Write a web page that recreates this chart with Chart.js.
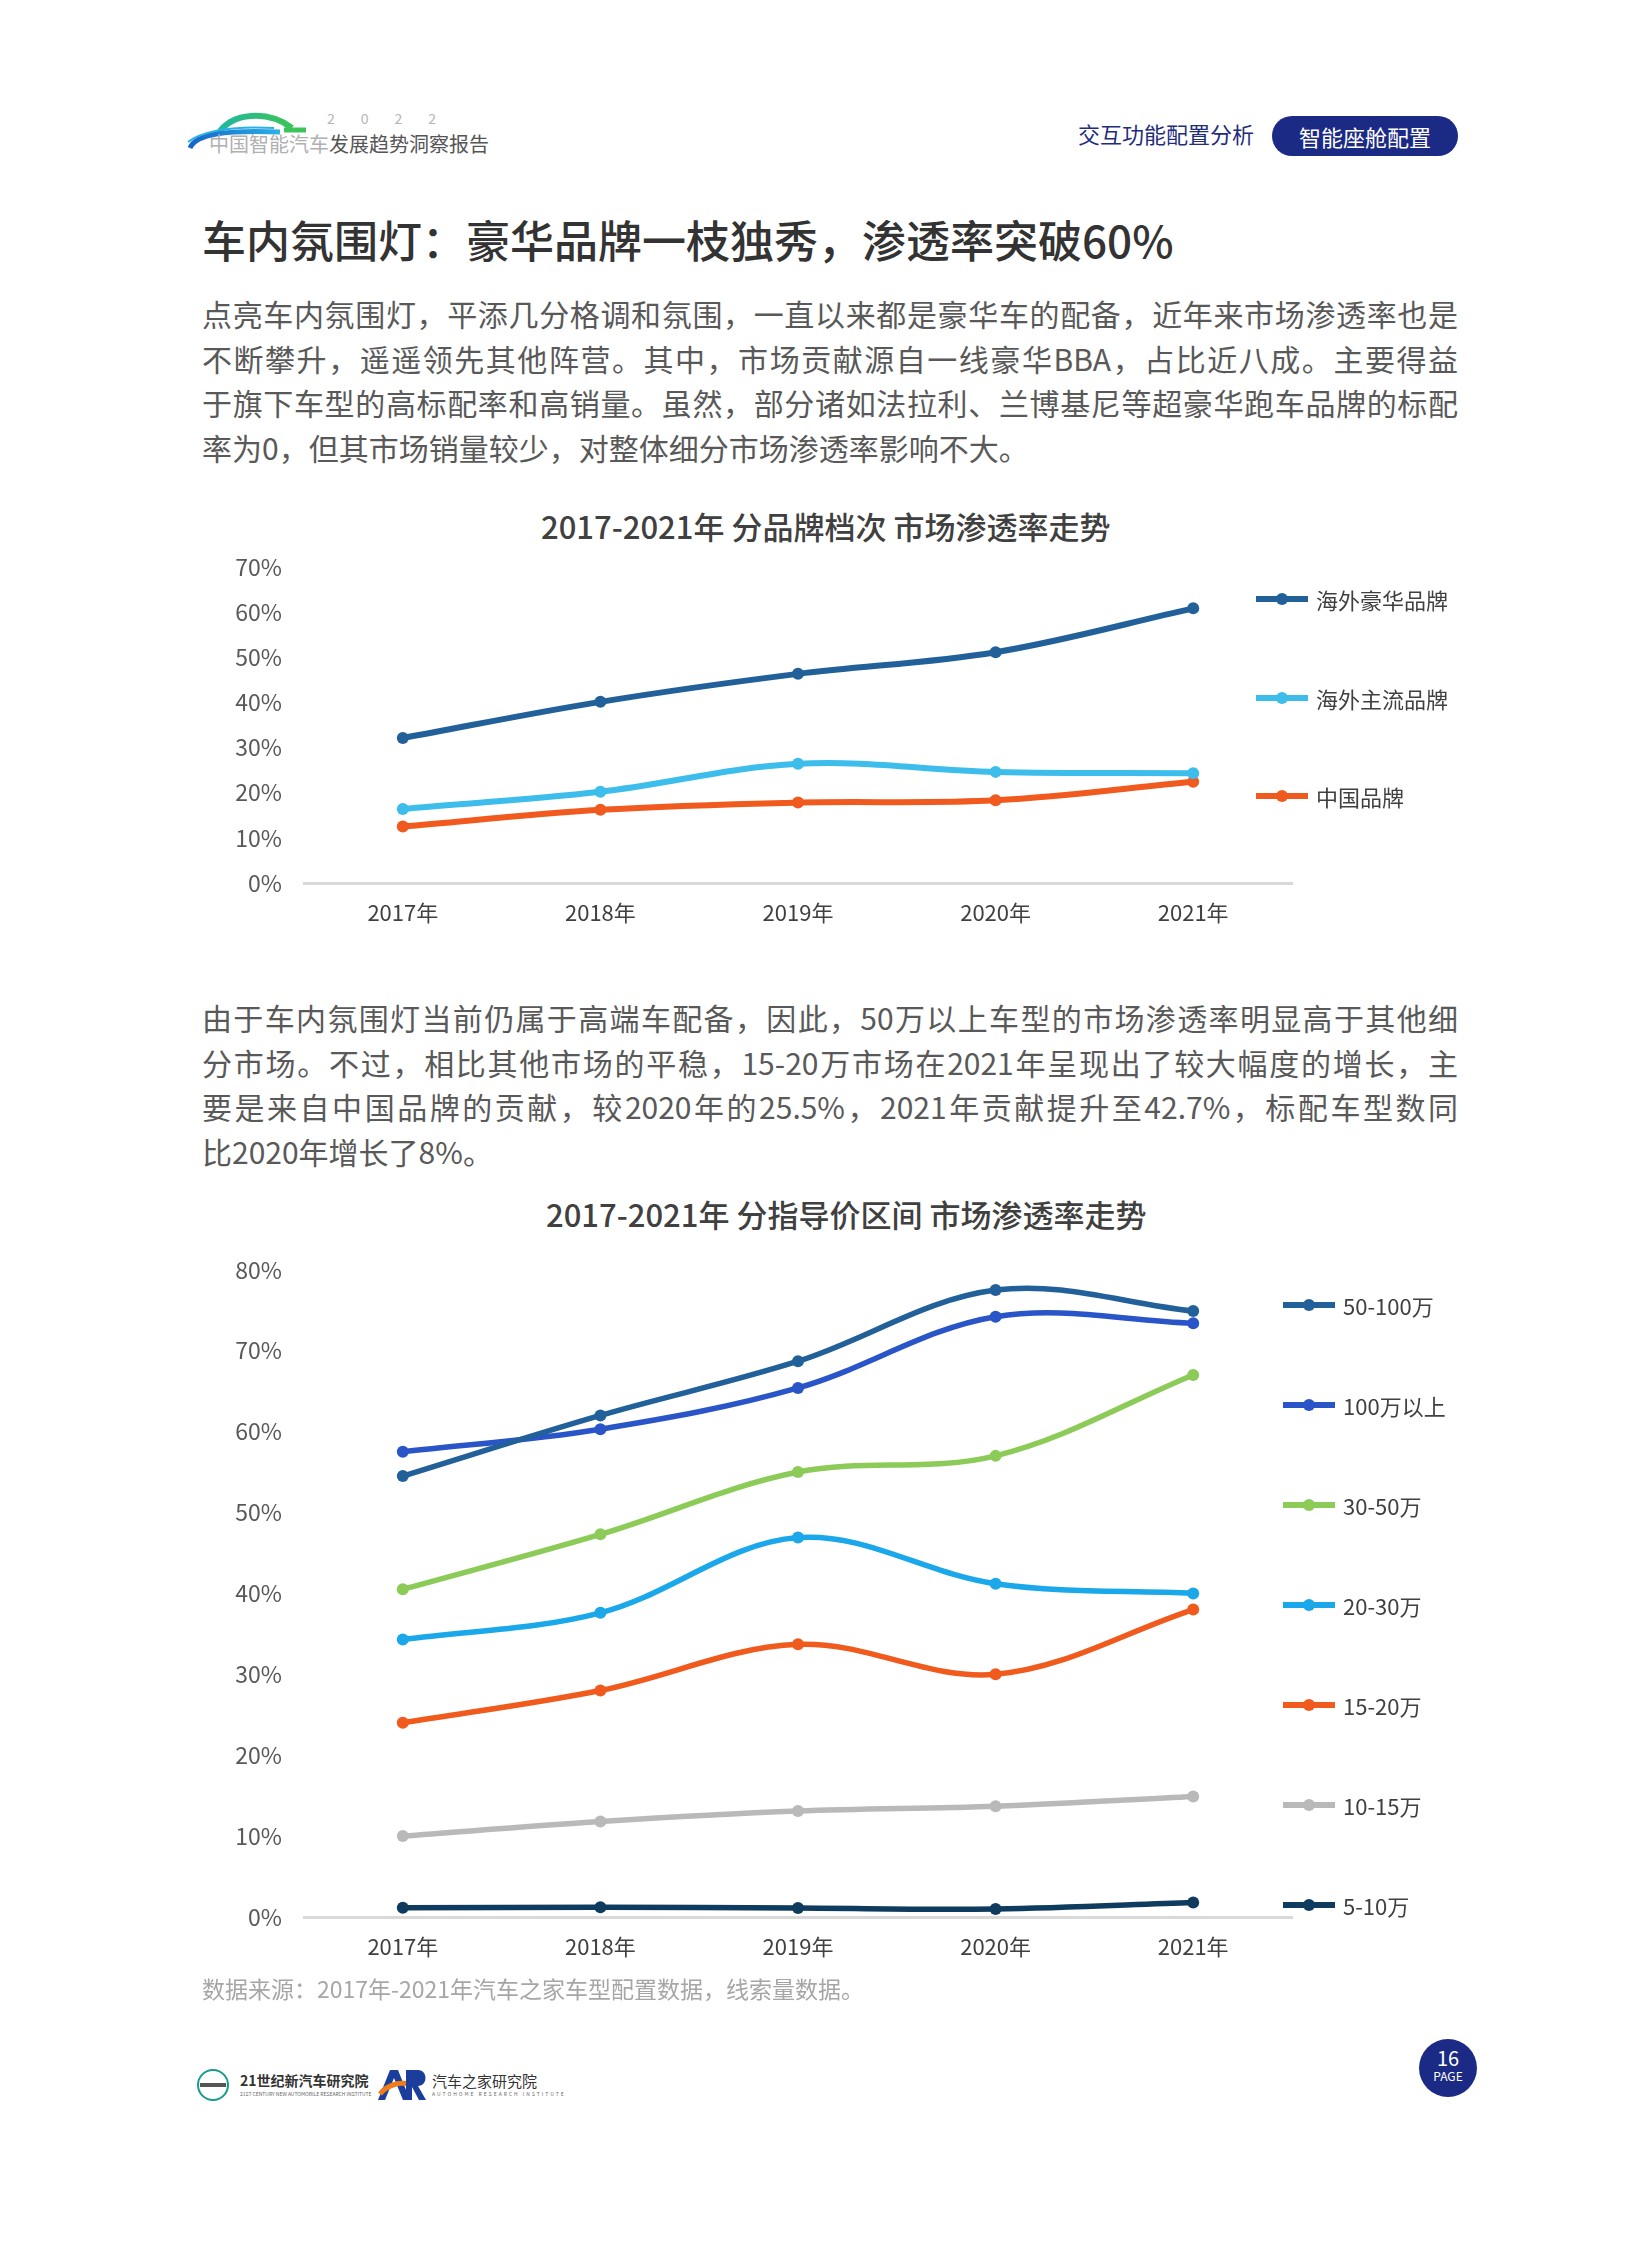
<!DOCTYPE html>
<html>
<head>
<meta charset="utf-8">
<script src="https://cdn.jsdelivr.net/npm/chart.js@4/dist/chart.umd.min.js"></script>
<style>
  html, body { margin: 0; padding: 0; background: #fff; }
  body { width: 1652px; height: 2244px; position: relative; overflow: hidden;
         font-family: "Noto Sans CJK SC", "Noto Sans", sans-serif; color: #595959; }
  .abs { position: absolute; }
  .para div { height: 44.7px; line-height: 44.7px; font-size: 30px; color: #595959; width: 1256px;
              text-align: justify; text-align-last: justify; white-space: nowrap; }
  .para div.last { text-align-last: left; }
  .ctitle { font-size: 31px; font-weight: 500; color: #404040; white-space: nowrap; }
  .legend-item { position: absolute; height: 24px; display: flex; align-items: center; font-size: 22px; color: #404040; white-space: nowrap; }
  .mk { position: relative; width: 52px; height: 14px; margin-right: 8px; }
  .mk .ln { position: absolute; left: 0; right: 0; top: 4px; height: 6px; }
  .mk .dt { position: absolute; left: 20px; top: 1px; width: 12px; height: 12px; border-radius: 50%; }
</style>
</head>
<body>

<!-- header -->
<svg class="abs" style="left:184px;top:108px" width="130" height="44">
  <defs>
    <linearGradient id="g1" x1="0" x2="1"><stop offset="0" stop-color="#1fb7a0"/><stop offset="1" stop-color="#3cc45a"/></linearGradient>
    <linearGradient id="g2" x1="0" x2="1"><stop offset="0" stop-color="#1565c8"/><stop offset="1" stop-color="#2bb0e6"/></linearGradient>
  </defs>
  <path d="M34 26 C 48 4, 84 2, 108 20" stroke="url(#g1)" stroke-width="6" fill="none"/>
  <path d="M100 22 L 122 22" stroke="#3cc45a" stroke-width="5" fill="none"/>
  <path d="M6 40 C 12 26, 40 22, 96 24" stroke="url(#g2)" stroke-width="5" fill="none"/>
  <path d="M4 34 C 20 22, 50 18, 90 20" stroke="#2bb0e6" stroke-width="2" fill="none"/>
</svg>
<div class="abs" style="left:327px;top:108px;font-size:14px;letter-spacing:26px;color:#b5b5b5">2022</div>
<div class="abs" style="left:209px;top:129px;font-size:20px;white-space:nowrap"><span style="color:#b0b0b0">中国智能汽车</span><span style="color:#555">发展趋势洞察报告</span></div>
<div class="abs" style="left:1078px;top:117px;font-size:22px;color:#1f2d7a;white-space:nowrap">交互功能配置分析</div>
<div class="abs" style="left:1272px;top:116px;width:186px;height:40px;border-radius:20px;background:#1b2a84;color:#fff;font-size:22px;line-height:40px;text-align:center">智能座舱配置</div>

<!-- title & paragraph -->
<div class="abs" style="left:202px;top:207px;font-size:44px;font-weight:500;color:#333;white-space:nowrap">车内氛围灯：豪华品牌一枝独秀，渗透率突破60%</div>
<div class="abs para" style="left:202px;top:291px">
  <div>点亮车内氛围灯，平添几分格调和氛围，一直以来都是豪华车的配备，近年来市场渗透率也是</div>
  <div>不断攀升，遥遥领先其他阵营。其中，市场贡献源自一线豪华BBA，占比近八成。主要得益</div>
  <div>于旗下车型的高标配率和高销量。虽然，部分诸如法拉利、兰博基尼等超豪华跑车品牌的标配</div>
  <div class="last">率为0，但其市场销量较少，对整体细分市场渗透率影响不大。</div>
</div>

<!-- chart 1 -->
<div class="abs ctitle" style="left:541px;top:503px">2017-2021年 分品牌档次 市场渗透率走势</div>
<div class="abs" style="left:200px;top:531px;width:1098px;height:409px"><canvas id="chart1"></canvas></div>
<div id="legend1"></div>

<!-- paragraph 2 -->
<div class="abs para" style="left:202px;top:995px">
  <div>由于车内氛围灯当前仍属于高端车配备，因此，50万以上车型的市场渗透率明显高于其他细</div>
  <div>分市场。不过，相比其他市场的平稳，15-20万市场在2021年呈现出了较大幅度的增长，主</div>
  <div>要是来自中国品牌的贡献，较2020年的25.5%，2021年贡献提升至42.7%，标配车型数同</div>
  <div class="last">比2020年增长了8%。</div>
</div>

<!-- chart 2 -->
<div class="abs ctitle" style="left:546px;top:1191px">2017-2021年 分指导价区间 市场渗透率走势</div>
<div class="abs" style="left:200px;top:1234px;width:1098px;height:740px"><canvas id="chart2"></canvas></div>
<div id="legend2"></div>

<div class="abs" style="left:202px;top:1971px;font-size:23px;color:#a6a6a6;white-space:nowrap">数据来源：2017年-2021年汽车之家车型配置数据，线索量数据。</div>

<!-- footer -->
<svg class="abs" style="left:196px;top:2068px" width="34" height="34">
  <circle cx="17" cy="17" r="15" fill="none" stroke="#1a9a8a" stroke-width="2"/>
  <rect x="4" y="15" width="26" height="4" fill="#555"/>
</svg>
<div class="abs" style="left:240px;top:2070px;font-size:14px;font-weight:700;color:#333;white-space:nowrap">21世纪新汽车研究院</div>
<div class="abs" style="left:240px;top:2090px;font-size:5px;color:#666;white-space:nowrap">21ST CENTURY NEW AUTOMOBILE RESEARCH INSTITUTE</div>
<svg class="abs" style="left:376px;top:2066px" width="52" height="36">
  <path d="M2 34 L 14 4 L 22 4 L 34 34 L 27 34 L 18 12 L 9 34 Z" fill="#1b3d9c"/>
  <path d="M4 28 C 12 18, 24 16, 34 18" stroke="#f07d1a" stroke-width="5" fill="none"/>
  <path d="M30 4 L 42 4 C 52 4, 52 20, 42 20 L 50 34 L 43 34 L 36 21 L 36 34 L 30 34 Z" fill="#1b3d9c"/>
</svg>
<div class="abs" style="left:432px;top:2070px;font-size:15px;color:#333;white-space:nowrap">汽车之家研究院</div>
<div class="abs" style="left:432px;top:2090px;font-size:5px;color:#666;letter-spacing:2px;white-space:nowrap">AUTOHOME RESEARCH INSTITUTE</div>
<div class="abs" style="left:1419px;top:2039px;width:58px;height:58px;border-radius:50%;background:#1b2a84;color:#fff;text-align:center">
  <div style="font-size:20px;line-height:20px;margin-top:9px">16</div>
  <div style="font-size:12px;line-height:16px">PAGE</div>
</div>

<script>
// 数据
const years = ["2017年", "2018年", "2019年", "2020年", "2021年"];

const brandNames = ["海外豪华品牌", "海外主流品牌", "中国品牌"];
const luxuryBrand = [32.1, 40.1, 46.3, 51.1, 60.8];
const mainstreamBrand = [16.4, 20.2, 26.4, 24.6, 24.3];
const chinaBrand = [12.5, 16.2, 17.8, 18.3, 22.4];
const brandColors = ["#22609a", "#3cbdec", "#f05a1e"];

const priceNames = ["50-100万", "100万以上", "30-50万", "20-30万", "15-20万", "10-15万", "5-10万"];
const price50to100 = [54.5, 62.0, 68.7, 77.5, 74.9];
const price100plus = [57.5, 60.3, 65.4, 74.2, 73.4];
const price30to50 = [40.5, 47.3, 55.0, 57.0, 67.0];
const price20to30 = [34.3, 37.6, 46.9, 41.2, 40.0];
const price15to20 = [24.0, 28.0, 33.7, 30.0, 38.0];
const price10to15 = [10.0, 11.8, 13.1, 13.7, 14.9];
const price5to10 = [1.15, 1.2, 1.1, 1.0, 1.8];
const priceColors = ["#22609a", "#2a55c8", "#8ccb58", "#1aa8ea", "#f05a1c", "#b9b9b9", "#0f3b5e"];

const chart1Ticks = [0, 10, 20, 30, 40, 50, 60, 70];
const chart2Ticks = [0, 10, 20, 30, 40, 50, 60, 70, 80];

Chart.defaults.font.family = '"Noto Sans CJK SC", "Noto Sans", sans-serif';
Chart.defaults.color = "#595959";

function makeDatasets(names, series, colors, width) {
  return names.map((n, i) => ({
    label: n,
    data: series[i],
    borderColor: colors[i],
    backgroundColor: colors[i],
    borderWidth: width,
    pointRadius: 6,
    pointHoverRadius: 6,
    pointBorderWidth: 0,
    tension: 0.35,
    fill: false,
  }));
}

function makeOptions(ticks) {
  return {
    responsive: true,
    maintainAspectRatio: false,
    animation: false,
    layout: { padding: 0 },
    plugins: { legend: { display: false }, tooltip: { enabled: false } },
    scales: {
      x: {
        offset: true,
        grid: { display: false, drawTicks: false },
        border: { display: true, color: "#d9d9d9", width: 3 },
        ticks: { font: { size: 22 }, color: "#404040", padding: 16 },
        afterFit: (s) => { s.height = 57; },
      },
      y: {
        min: ticks[0],
        max: ticks[ticks.length - 1],
        afterBuildTicks: (s) => { s.ticks = ticks.map((v) => ({ value: v })); },
        grid: { display: false, drawTicks: false },
        border: { display: false },
        ticks: { font: { size: 23 }, color: "#595959", padding: 22, callback: (v) => v + "%" },
        afterFit: (s) => { s.width = 104; },
      },
    },
  };
}

new Chart(document.getElementById("chart1"), {
  type: "line",
  data: {
    labels: years,
    datasets: makeDatasets(brandNames, [luxuryBrand, mainstreamBrand, chinaBrand], brandColors, 6),
  },
  options: makeOptions(chart1Ticks),
});

new Chart(document.getElementById("chart2"), {
  type: "line",
  data: {
    labels: years,
    datasets: makeDatasets(priceNames,
      [price50to100, price100plus, price30to50, price20to30, price15to20, price10to15, price5to10],
      priceColors, 5.5),
  },
  options: makeOptions(chart2Ticks),
});

// 图例
function buildLegend(id, names, colors, left, top, step) {
  const box = document.getElementById(id);
  names.forEach((n, i) => {
    const item = document.createElement("div");
    item.className = "legend-item";
    item.style.left = left + "px";
    item.style.top = (top + i * step - 12) + "px";
    item.innerHTML = '<div class="mk"><div class="ln" style="background:' + colors[i] +
      '"></div><div class="dt" style="background:' + colors[i] + '"></div></div>' + n;
    box.appendChild(item);
  });
}
buildLegend("legend1", brandNames, brandColors, 1256, 599, 98.5);
buildLegend("legend2", priceNames, priceColors, 1283, 1305, 100);
</script>
</body>
</html>
